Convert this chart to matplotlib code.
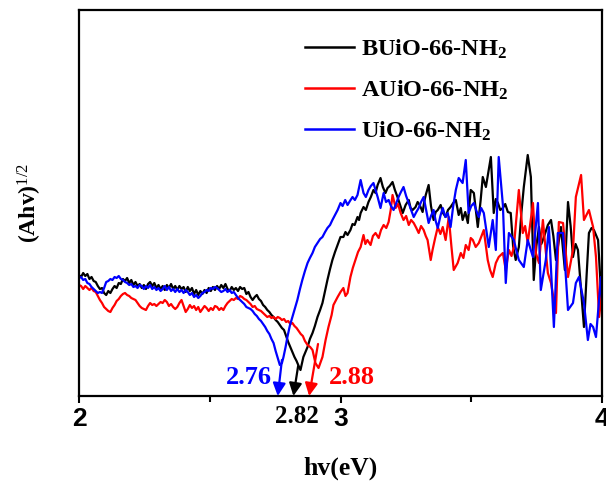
import matplotlib
matplotlib.use("Agg")
import matplotlib.pyplot as plt
from matplotlib.transforms import blended_transform_factory

plt.rcParams["mathtext.fontset"] = "custom"
plt.rcParams["mathtext.rm"] = "Liberation Serif"
plt.rcParams["mathtext.bf"] = "Liberation Serif:bold"
plt.rcParams["mathtext.it"] = "Liberation Serif:italic"

# Tauc plot data: photon energy (eV) vs (Ahv)^1/2 (a.u.)
bu_x = [2.000, 2.008, 2.016, 2.024, 2.032, 2.040, 2.048, 2.056, 2.064, 2.072,
        2.080, 2.088, 2.096, 2.104, 2.112, 2.120, 2.128, 2.136, 2.144, 2.152,
        2.160, 2.168, 2.176, 2.184, 2.192, 2.200, 2.208, 2.216, 2.224, 2.232,
        2.240, 2.248, 2.256, 2.264, 2.272, 2.280, 2.288, 2.296, 2.304, 2.312,
        2.320, 2.328, 2.336, 2.344, 2.352, 2.360, 2.368, 2.376, 2.384, 2.392,
        2.400, 2.408, 2.416, 2.424, 2.432, 2.440, 2.448, 2.456, 2.464, 2.472,
        2.480, 2.488, 2.496, 2.504, 2.512, 2.520, 2.528, 2.536, 2.544, 2.552,
        2.560, 2.568, 2.576, 2.584, 2.592, 2.600, 2.608, 2.616, 2.624, 2.632,
        2.640, 2.648, 2.656, 2.664, 2.672, 2.680, 2.688, 2.696, 2.704, 2.712,
        2.720, 2.728, 2.736, 2.744, 2.752, 2.760, 2.768, 2.776, 2.784, 2.792,
        2.800, 2.808, 2.816, 2.824, 2.832, 2.840, 2.847, 2.852, 2.858, 2.866,
        2.874, 2.883, 2.893, 2.902, 2.912, 2.922, 2.931, 2.940, 2.950, 2.960,
        2.969, 2.979, 2.989, 3.000, 3.011, 3.019, 3.027, 3.038, 3.046, 3.054,
        3.065, 3.071, 3.077, 3.088, 3.097, 3.107, 3.116, 3.126, 3.134, 3.142,
        3.153, 3.162, 3.172, 3.180, 3.188, 3.199, 3.208, 3.218, 3.228, 3.238,
        3.249, 3.261, 3.268, 3.276, 3.287, 3.295, 3.303, 3.314, 3.320, 3.326,
        3.337, 3.346, 3.356, 3.364, 3.372, 3.383, 3.392, 3.402, 3.411, 3.421,
        3.431, 3.441, 3.452, 3.460, 3.467, 3.477, 3.487, 3.498, 3.510, 3.525,
        3.536, 3.544, 3.556, 3.567, 3.575, 3.586, 3.594, 3.602, 3.611, 3.621,
        3.630, 3.640, 3.651, 3.660, 3.670, 3.682, 3.692, 3.701, 3.716, 3.728,
        3.739, 3.749, 3.759, 3.768, 3.778, 3.793, 3.805, 3.814, 3.824, 3.833,
        3.843, 3.858, 3.870, 3.880, 3.889, 3.899, 3.908, 3.920, 3.931, 3.941,
        3.950, 3.960, 3.969, 3.985, 4.000]
bu_y = [121, 119, 123, 120, 122, 117, 119, 115, 114, 110,
        107, 108, 103, 101, 105, 103, 107, 110, 108, 113,
        112, 117, 115, 118, 113, 116, 111, 114, 110, 112,
        108, 111, 107, 112, 114, 110, 113, 108, 111, 107,
        110, 106, 111, 108, 112, 107, 110, 106, 110, 107,
        109, 104, 109, 105, 108, 102, 106, 101, 105, 102,
        106, 103, 108, 105, 109, 106, 110, 107, 111, 108,
        112, 107, 105, 109, 106, 108, 105, 109, 107, 108,
        102, 104, 99, 96, 99, 101, 97, 95, 91, 89,
        86, 84, 81, 79, 76, 74, 71, 68, 66, 60,
        54, 49, 44, 39, 35, 30, 26, 32, 39, 44,
        49, 57, 63, 70, 79, 86, 93, 104, 116, 127,
        136, 144, 151, 159, 159, 164, 161, 166, 172, 171,
        179, 176, 183, 189, 186, 194, 199, 206, 203, 211,
        218, 209, 203, 208, 210, 214, 206, 199, 191, 183,
        191, 196, 188, 186, 189, 194, 191, 184, 194, 201,
        211, 190, 176, 184, 186, 191, 183, 179, 186, 189,
        193, 196, 181, 188, 176, 184, 173, 206, 203, 169,
        196, 219, 209, 226, 239, 183, 197, 193, 186, 188,
        192, 184, 183, 150, 136, 149, 184, 209, 241, 219,
        116, 150, 169, 152, 159, 171, 176, 160, 136, 152,
        169, 126, 194, 170, 139, 152, 146, 106, 69, 120,
        163, 168, 166, 156, 86]

au_x = [2.000, 2.008, 2.016, 2.024, 2.032, 2.040, 2.048, 2.056, 2.064, 2.072,
        2.080, 2.088, 2.096, 2.104, 2.112, 2.120, 2.128, 2.136, 2.144, 2.152,
        2.160, 2.168, 2.176, 2.184, 2.192, 2.200, 2.208, 2.216, 2.224, 2.232,
        2.240, 2.248, 2.256, 2.264, 2.272, 2.280, 2.288, 2.296, 2.304, 2.312,
        2.320, 2.328, 2.336, 2.344, 2.352, 2.360, 2.368, 2.376, 2.384, 2.392,
        2.400, 2.408, 2.416, 2.424, 2.432, 2.440, 2.448, 2.456, 2.464, 2.472,
        2.480, 2.488, 2.496, 2.504, 2.512, 2.520, 2.528, 2.536, 2.544, 2.552,
        2.560, 2.568, 2.576, 2.584, 2.592, 2.600, 2.608, 2.616, 2.624, 2.632,
        2.640, 2.648, 2.656, 2.664, 2.672, 2.680, 2.688, 2.696, 2.704, 2.712,
        2.720, 2.728, 2.736, 2.744, 2.752, 2.760, 2.768, 2.776, 2.784, 2.792,
        2.800, 2.808, 2.816, 2.824, 2.832, 2.840, 2.848, 2.856, 2.864, 2.874,
        2.884, 2.893, 2.904, 2.916, 2.931, 2.943, 2.954, 2.966, 2.973, 2.981,
        2.989, 3.000, 3.011, 3.019, 3.027, 3.038, 3.047, 3.057, 3.067, 3.077,
        3.088, 3.095, 3.103, 3.115, 3.124, 3.134, 3.146, 3.155, 3.165, 3.175,
        3.184, 3.192, 3.199, 3.211, 3.220, 3.230, 3.241, 3.251, 3.261, 3.270,
        3.280, 3.290, 3.299, 3.308, 3.318, 3.326, 3.333, 3.345, 3.352, 3.362,
        3.372, 3.382, 3.391, 3.402, 3.414, 3.424, 3.433, 3.448, 3.460, 3.470,
        3.479, 3.490, 3.498, 3.506, 3.517, 3.529, 3.539, 3.548, 3.563, 3.572,
        3.582, 3.594, 3.605, 3.621, 3.632, 3.644, 3.654, 3.663, 3.682, 3.697,
        3.706, 3.716, 3.736, 3.747, 3.759, 3.774, 3.783, 3.793, 3.805, 3.824,
        3.835, 3.851, 3.870, 3.889, 3.900, 3.920, 3.931, 3.950, 3.966, 3.977,
        3.989, 4.000]
au_y = [111, 110, 107, 110, 108, 106, 108, 105, 104, 100,
        96, 93, 89, 87, 85, 84, 88, 91, 95, 97,
        100, 102, 103, 101, 100, 98, 97, 96, 93, 90,
        88, 87, 86, 90, 93, 91, 92, 90, 92, 94,
        93, 96, 94, 90, 92, 89, 87, 89, 93, 96,
        90, 84, 87, 91, 88, 90, 86, 89, 84, 87,
        90, 88, 85, 88, 86, 90, 89, 86, 88, 86,
        90, 93, 95, 97, 96, 98, 97, 100, 99, 97,
        96, 94, 92, 89, 90, 87, 86, 85, 83, 81,
        79, 80, 78, 79, 77, 79, 78, 76, 77, 74,
        75, 72, 73, 70, 68, 65, 62, 60, 55, 51,
        49, 46, 33, 28, 39, 56, 69, 81, 91, 95,
        99, 104, 108, 100, 103, 119, 128, 136, 144, 149,
        161, 152, 156, 151, 160, 163, 158, 166, 171, 168,
        174, 186, 201, 188, 192, 183, 176, 180, 171, 176,
        173, 168, 163, 170, 166, 160, 156, 136, 146, 158,
        169, 162, 169, 156, 179, 150, 126, 133, 143, 138,
        151, 146, 158, 156, 149, 153, 160, 166, 136, 126,
        119, 133, 139, 143, 126, 146, 140, 149, 206, 163,
        170, 153, 193, 143, 133, 176, 150, 123, 113, 83,
        174, 173, 119, 146, 199, 221, 176, 186, 169, 139,
        79, 106]

u_x = [2.000, 2.008, 2.016, 2.024, 2.032, 2.040, 2.048, 2.056, 2.064, 2.072,
       2.080, 2.088, 2.096, 2.104, 2.112, 2.120, 2.128, 2.136, 2.144, 2.152,
       2.160, 2.168, 2.176, 2.184, 2.192, 2.200, 2.208, 2.216, 2.224, 2.232,
       2.240, 2.248, 2.256, 2.264, 2.272, 2.280, 2.288, 2.296, 2.304, 2.312,
       2.320, 2.328, 2.336, 2.344, 2.352, 2.360, 2.368, 2.376, 2.384, 2.392,
       2.400, 2.408, 2.416, 2.424, 2.432, 2.440, 2.448, 2.456, 2.464, 2.472,
       2.480, 2.488, 2.496, 2.504, 2.512, 2.520, 2.528, 2.536, 2.544, 2.552,
       2.560, 2.568, 2.576, 2.584, 2.592, 2.600, 2.608, 2.616, 2.624, 2.632,
       2.640, 2.648, 2.656, 2.664, 2.672, 2.680, 2.688, 2.696, 2.704, 2.712,
       2.720, 2.728, 2.736, 2.744, 2.752, 2.760, 2.768, 2.776, 2.782, 2.790,
       2.797, 2.806, 2.816, 2.826, 2.835, 2.845, 2.854, 2.864, 2.874, 2.883,
       2.893, 2.902, 2.912, 2.922, 2.931, 2.941, 2.950, 2.960, 2.969, 2.979,
       2.989, 3.000, 3.008, 3.018, 3.027, 3.036, 3.046, 3.055, 3.065, 3.077,
       3.088, 3.097, 3.107, 3.116, 3.126, 3.134, 3.142, 3.153, 3.165, 3.174,
       3.184, 3.193, 3.203, 3.212, 3.222, 3.231, 3.241, 3.251, 3.261, 3.270,
       3.280, 3.290, 3.299, 3.308, 3.318, 3.328, 3.337, 3.346, 3.356, 3.364,
       3.372, 3.382, 3.391, 3.401, 3.410, 3.421, 3.431, 3.441, 3.452, 3.467,
       3.479, 3.490, 3.500, 3.510, 3.520, 3.529, 3.538, 3.548, 3.567, 3.582,
       3.594, 3.605, 3.621, 3.632, 3.644, 3.663, 3.672, 3.682, 3.701, 3.716,
       3.736, 3.755, 3.766, 3.785, 3.797, 3.816, 3.831, 3.851, 3.870, 3.889,
       3.900, 3.912, 3.931, 3.946, 3.956, 3.966, 3.977, 3.996, 4.000]
u_y = [118, 119, 116, 117, 113, 112, 109, 107, 105, 103,
       104, 103, 108, 114, 115, 117, 116, 119, 118, 120,
       117, 116, 114, 113, 111, 112, 109, 110, 108, 111,
       110, 107, 110, 108, 111, 107, 109, 106, 108, 105,
       107, 110, 106, 109, 105, 107, 104, 107, 104, 106,
       103, 106, 104, 101, 103, 99, 101, 98, 100, 103,
       104, 106, 105, 108, 107, 109, 108, 106, 104, 105,
       107, 104, 106, 103, 104, 101, 98, 96, 94, 92,
       89, 88, 87, 85, 82, 80, 77, 75, 72, 69,
       65, 62, 57, 53, 45, 38, 31, 33, 39, 49,
       59, 70, 79, 88, 96, 107, 116, 125, 133, 138,
       143, 149, 153, 157, 159, 164, 168, 171, 176, 181,
       186, 193, 190, 196, 191, 195, 199, 196, 201, 216,
       203, 199, 206, 210, 213, 206, 199, 188, 203, 194,
       196, 190, 186, 192, 199, 204, 209, 200, 193, 186,
       179, 184, 188, 194, 199, 185, 173, 180, 186, 175,
       168, 180, 188, 179, 183, 169, 190, 206, 218, 213,
       236, 183, 190, 193, 185, 179, 188, 183, 149, 176,
       146, 239, 191, 113, 163, 156, 146, 136, 129, 156,
       139, 193, 106, 136, 169, 69, 163, 163, 86, 93,
       113, 119, 93, 56, 72, 69, 59, 119, 99]

series_labels = [r"BUiO-66-NH$_\mathbf{2}$", r"AUiO-66-NH$_\mathbf{2}$",
                 r"UiO-66-NH$_\mathbf{2}$"]
series_colors = ["#000000", "#ff0000", "#0000ff"]

# Band-gap values marked with arrows
gap_values = [2.76, 2.82, 2.88]

serif = "Liberation Serif"
sans = "Liberation Sans"

fig = plt.figure(figsize=(6.06, 4.84), dpi=100)
ax = fig.add_axes([79 / 606, 88 / 484, 523 / 606, 386 / 484])

for xs, ys, lab, col in zip([bu_x, au_x, u_x], [bu_y, au_y, u_y],
                            series_labels, series_colors):
    ax.plot(xs, ys, color=col, lw=1.6, label=lab)

ax.set_xlim(2, 4)
ax.set_ylim(0, 386)
ax.set_xticks([2, 3, 4])
ax.set_xticks([2.5, 3.5], minor=True)
ax.set_xticklabels(["2", "3", "4"], fontfamily=sans, fontweight="bold",
                   fontsize=19)
ax.tick_params(axis="x", which="major", direction="out", length=5, width=1.5,
               pad=3)
ax.tick_params(axis="x", which="minor", direction="out", length=4, width=1.5)
ax.set_yticks([])
for sp in ax.spines.values():
    sp.set_linewidth(1.6)

ax.set_xlabel("hv(eV)", fontfamily=serif, fontweight="bold", fontsize=18.5,
              labelpad=18)
ax.set_ylabel(r"(Ahv)$^{1/2}$", fontfamily=serif, fontweight="bold",
              fontsize=17, labelpad=25)

leg = ax.legend(loc="upper left", bbox_to_anchor=(0.391, 0.985), frameon=False,
                handlelength=2.0, handletextpad=0.3, labelspacing=0.72,
                prop={"family": serif, "weight": "bold", "size": 17.5})
for h in leg.get_lines():
    h.set_linewidth(1.8)

# Arrows pointing at the band-gap positions
arrow_starts = [(2.776, 36), (2.838, 30), (2.914, 52)]
for gx, (sx, sy), col in zip(gap_values, arrow_starts,
                             [series_colors[2], series_colors[0], series_colors[1]]):
    ax.annotate("", xy=(gx, 0), xytext=(sx, sy),
                arrowprops=dict(arrowstyle="-|>", color=col, lw=1.6,
                                mutation_scale=19, shrinkA=0, shrinkB=0))

ax.text(2.739, 18, f"{gap_values[0]:.2f}", color=series_colors[2],
        fontfamily=serif, fontweight="bold", fontsize=19,
        ha="right", va="center")
ax.text(2.954, 18, f"{gap_values[2]:.2f}", color=series_colors[1],
        fontfamily=serif, fontweight="bold", fontsize=19,
        ha="left", va="center")
trans = blended_transform_factory(ax.transData, ax.transAxes)
ax.text(2.835, -0.053, f"{gap_values[1]:.2f}", color="black",
        fontfamily=serif, fontweight="bold", fontsize=18, ha="center",
        va="center", transform=trans)

fig.savefig("out.png", dpi=100)
